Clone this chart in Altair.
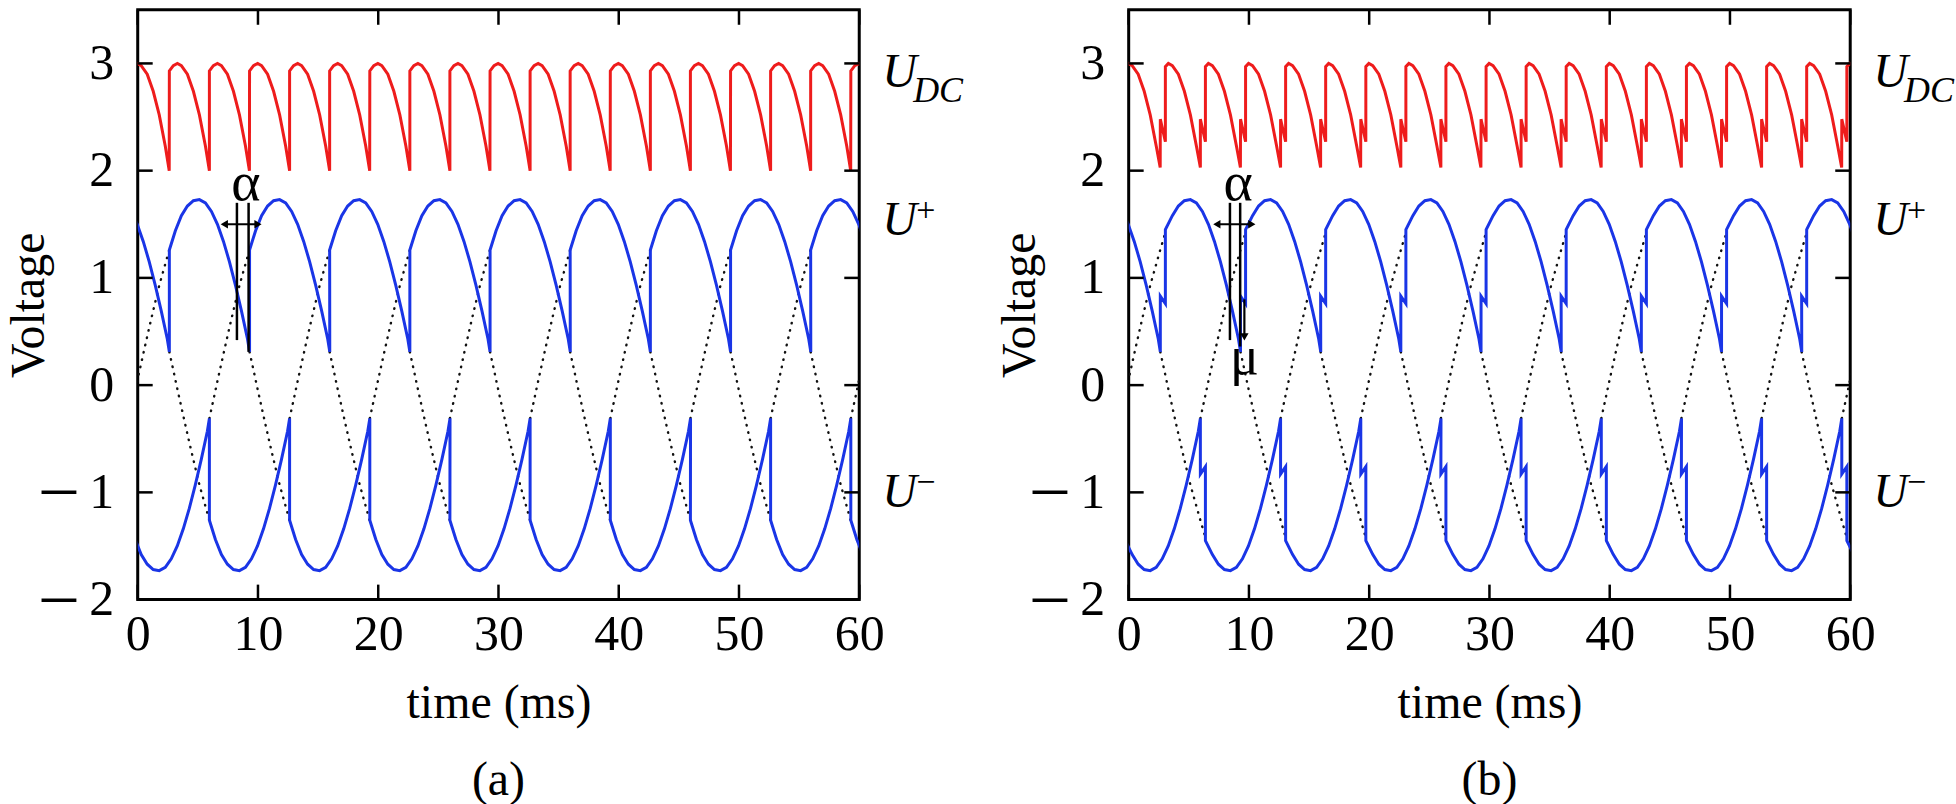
import altair as alt
import pandas as pd

# ---------------- values ----------------
X_TICKS = [0, 10, 20, 30, 40, 50, 60]
Y_TICKS = [-2, -1, 0, 1, 2, 3]

# panel (a): firing instants (ms) of the + rail and of the - rail
UP_FIRE_A = [-4.04, 2.63, 9.30, 15.96, 22.63, 29.30, 35.96, 42.63, 49.30, 55.96]
UM_FIRE_A = [-0.71, 5.96, 12.63, 19.30, 25.96, 32.63, 39.30, 45.96, 52.63, 59.30]
# shape of one U+ / U- conduction arc (offset after firing, value)
ARC_OFF_A = [0.0, 0.5, 1.0, 1.5, 2.0, 2.5, 3.0, 3.5, 4.0, 4.5, 5.0, 5.5, 6.0, 6.5, 6.67]
UP_ARC_A = [1.26, 1.44, 1.58, 1.67, 1.72, 1.73, 1.70, 1.62, 1.50, 1.34, 1.15, 0.93, 0.69, 0.43, 0.31]
UM_ARC_A = [-1.26, -1.44, -1.58, -1.67, -1.72, -1.73, -1.70, -1.62, -1.50, -1.34, -1.15, -0.93, -0.69, -0.43, -0.31]
# U_DC pulse (offset after each commutation, value)
DC_OFF_A = [0.0, 0.33, 0.67, 1.0, 1.5, 2.0, 2.5, 3.0, 3.33]
DC_ARC_A = [2.93, 2.98, 3.00, 2.98, 2.90, 2.74, 2.52, 2.23, 2.00]
# free phase voltages (dotted)
DOT_OFF_A = [0.0, 0.83, 1.67, 2.5, 3.33]
DOT_FALL_A = [0.31, -0.12, -0.54, -0.93, -1.26]
DOT_RISE_A = [-0.31, 0.12, 0.54, 0.93, 1.26]

# panel (b): same firing instants, with overlap mu
UP_FIRE_B = [-4.04, 2.63, 9.30, 15.96, 22.63, 29.30, 35.96, 42.63, 49.30, 55.96]
UM_FIRE_B = [-0.71, 5.96, 12.63, 19.30, 25.96, 32.63, 39.30, 45.96, 52.63, 59.30]
ARC_OFF_B = [0.0, 0.42, 0.42, 1.0, 1.5, 2.0, 2.5, 3.0, 3.5, 4.0, 4.5, 5.0, 5.5, 6.0, 6.5, 6.67]
UP_ARC_B = [0.83, 0.76, 1.45, 1.58, 1.67, 1.72, 1.73, 1.70, 1.62, 1.50, 1.34, 1.15, 0.93, 0.69, 0.43, 0.31]
UM_ARC_B = [-0.83, -0.76, -1.45, -1.58, -1.67, -1.72, -1.73, -1.70, -1.62, -1.50, -1.34, -1.15, -0.93, -0.69, -0.43, -0.31]
DC_OFF_B = [0.0, 0.42, 0.42, 0.67, 1.0, 1.5, 2.0, 2.5, 3.0, 3.33]
DC_ARC_B = [2.48, 2.27, 2.97, 3.00, 2.98, 2.90, 2.74, 2.52, 2.23, 2.03]
DOT_OFF_B = [0.0, 0.83, 1.67, 2.5, 3.33, 3.75]
DOT_FALL_B = [0.31, -0.12, -0.54, -0.93, -1.26, -1.42]
DOT_RISE_B = [-0.31, 0.12, 0.54, 0.93, 1.26, 1.42]

# annotations
ALPHA_T_A = [8.25, 9.22]
ALPHA_TOP_A = [1.70, 1.70]
ALPHA_BOT_A = [0.42, 0.31]
ARROW_T_A = [7.2, 10.0]
ARROW_V = 1.50
ALPHA_LBL_A = [9.0, 1.88]

ALPHA_T_B = [8.42, 9.27]
ALPHA_TOP_B = [1.70, 1.70]
ALPHA_BOT_B = [0.42, 0.36]
ARROW_T_B = [7.33, 10.24]
ALPHA_LBL_B = [9.1, 1.88]
MU_T = 9.62
MU_V = [0.80, 0.45]
MU_LBL = [9.62, 0.25]

LABEL_V = {"UDC": 2.91, "UP": 1.53, "UM": -1.01}

# ---------------- styling ----------------
FONT = "'Liberation Serif', 'Times New Roman', Times, serif"
RED = "#ee1c1c"
BLUE = "#1a35e6"
W, H = 723, 591
FS = 50
TFS = 48


def tile(fires, offs, vals):
    rows = []
    for f in fires:
        for o, v in zip(offs, vals):
            rows.append({"t": round(f + o, 3), "v": v})
    df = pd.DataFrame(rows)
    df["i"] = range(len(df))
    return df


def tile_segs(fires, offs, vals, g0):
    rows = []
    k = 0
    for g, f in enumerate(fires):
        for o, v in zip(offs, vals):
            rows.append({"t": round(f + o, 3), "v": v, "g": g0 + g, "i": k})
            k += 1
    return pd.DataFrame(rows)


xs = alt.Scale(domain=[0, 60], nice=False, zero=False)
ys = alt.Scale(domain=[-2, 3.5], nice=False, zero=False)

X = alt.X("t:Q", scale=xs, axis=alt.Axis(
    values=X_TICKS, ticks=False, domain=False, grid=False,
    labelFont=FONT, labelFontSize=FS, labelColor="black", labelPadding=10,
    labelFlush=False, labelOverlap=False,
    title="time (ms)", titleFont=FONT, titleFontSize=TFS, titleFontWeight="normal",
    titleColor="black", titleBaseline="alphabetic", titleY=118))
Y = alt.Y("v:Q", scale=ys, axis=alt.Axis(
    values=Y_TICKS, ticks=False, domain=False, grid=False,
    labelFont=FONT, labelFontSize=FS, labelColor="black", labelPadding=24,
    labelFlush=False, labelOverlap=False,
    labelExpr="'' + abs(datum.value)",
    title="Voltage", titleFont=FONT, titleFontSize=TFS, titleFontWeight="normal",
    titleColor="black", titleBaseline="alphabetic", titleAngle=270, titleX=-94))


def panel(tag, up_fire, um_fire, arc_off, up_arc, um_arc, dc_off, dc_arc,
          dot_off, dot_fall, dot_rise, a_t, a_top, a_bot, arr_t, a_lbl,
          mu=None, bound=False):
    dc_fire = sorted(up_fire + um_fire)
    dots = pd.concat([tile_segs(up_fire, dot_off, dot_fall, 0),
                      tile_segs(um_fire, dot_off, dot_rise, 100)])
    layers = []
    layers.append(alt.Chart(dots).mark_line(
        color="#111111", strokeWidth=2.4, strokeDash=[0.5, 7], strokeCap="round", clip=True
    ).encode(x=X, y=Y, detail="g:N", order="i:Q"))
    for df, col in [(tile(up_fire, arc_off, up_arc), BLUE),
                    (tile(um_fire, arc_off, um_arc), BLUE),
                    (tile(dc_fire, dc_off, dc_arc), RED)]:
        layers.append(alt.Chart(df).mark_line(color=col, strokeWidth=3, clip=True)
                      .encode(x=X, y=Y, order="i:Q"))
    # inward mirror ticks
    yt = pd.DataFrame({"v": Y_TICKS})
    xt = pd.DataFrame({"t": X_TICKS})
    layers.append(alt.Chart(yt).mark_rule(color="black", strokeWidth=2.5)
                  .encode(y=Y, x=alt.value(0), x2=alt.value(15)))
    layers.append(alt.Chart(yt).mark_rule(color="black", strokeWidth=2.5)
                  .encode(y=Y, x=alt.value(W - 15), x2=alt.value(W)))
    layers.append(alt.Chart(xt).mark_rule(color="black", strokeWidth=2.5)
                  .encode(x=X, y=alt.value(H - 15), y2=alt.value(H)))
    layers.append(alt.Chart(xt).mark_rule(color="black", strokeWidth=2.5)
                  .encode(x=X, y=alt.value(0), y2=alt.value(15)))
    # long minus signs of the negative tick labels
    neg = pd.DataFrame({"v": [v for v in Y_TICKS if v < 0], "s": ["–" for v in Y_TICKS if v < 0]})
    layers.append(alt.Chart(neg).mark_text(font=FONT, fontSize=68, color="black",
                                          align="right", baseline="middle", dy=-4)
                  .encode(y=Y, x=alt.value(-62), text="s:N"))
    # alpha markers
    al = pd.DataFrame({"t": a_t, "v": a_top, "v2": a_bot})
    layers.append(alt.Chart(al).mark_rule(color="black", strokeWidth=2.5)
                  .encode(x=X, y=Y, y2=alt.Y2("v2:Q")))
    ar = pd.DataFrame({"t": [arr_t[0]], "t2": [arr_t[1]], "v": [ARROW_V]})
    layers.append(alt.Chart(ar).mark_rule(color="black", strokeWidth=2.2)
                  .encode(x=X, x2=alt.X2("t2:Q"), y=Y))
    layers.append(alt.Chart(pd.DataFrame({"t": [arr_t[0]], "v": [ARROW_V]}))
                  .mark_point(shape="triangle-left", filled=True, color="black", size=70, opacity=1)
                  .encode(x=X, y=Y))
    layers.append(alt.Chart(pd.DataFrame({"t": [arr_t[1]], "v": [ARROW_V]}))
                  .mark_point(shape="triangle-right", filled=True, color="black", size=70, opacity=1)
                  .encode(x=X, y=Y))
    layers.append(alt.Chart(pd.DataFrame({"t": [a_lbl[0]], "v": [a_lbl[1]], "s": ["α"]}))
                  .mark_text(font=FONT, fontSize=56, color="black", baseline="middle")
                  .encode(x=X, y=Y, text="s:N"))
    if mu is not None:
        mt, mv, ml = mu
        layers.append(alt.Chart(pd.DataFrame({"t": [mt], "v": [mv[0]], "v2": [mv[1]]}))
                      .mark_rule(color="black", strokeWidth=2.2)
                      .encode(x=X, y=Y, y2=alt.Y2("v2:Q")))
        layers.append(alt.Chart(pd.DataFrame({"t": [mt], "v": [mv[1]]}))
                      .mark_point(shape="triangle-down", filled=True, color="black", size=70, opacity=1)
                      .encode(x=X, y=Y))
        layers.append(alt.Chart(pd.DataFrame({"t": [ml[0]], "v": [ml[1]], "s": ["μ"]}))
                      .mark_text(font=FONT, fontSize=54, color="black", baseline="middle")
                      .encode(x=X, y=Y, text="s:N"))
    # right-hand labels
    lab = pd.DataFrame({"v": [LABEL_V["UDC"], LABEL_V["UP"], LABEL_V["UM"]], "s": ["U", "U", "U"]})
    layers.append(alt.Chart(lab).mark_text(font=FONT, fontSize=48, fontStyle="italic", color="black",
                                          align="left", baseline="middle")
                  .encode(y=Y, x=alt.value(W + 23), text="s:N"))
    layers.append(alt.Chart(pd.DataFrame({"v": [LABEL_V["UDC"]], "s": ["DC"]}))
                  .mark_text(font=FONT, fontSize=36, fontStyle="italic", color="black",
                             align="left", baseline="middle", dy=18)
                  .encode(y=Y, x=alt.value(W + 54), text="s:N"))
    layers.append(alt.Chart(pd.DataFrame({"v": [LABEL_V["UP"], LABEL_V["UM"]], "s": ["+", "−"]}))
                  .mark_text(font=FONT, fontSize=34, color="black",
                             align="left", baseline="middle", dy=-10)
                  .encode(y=Y, x=alt.value(W + 57), text="s:N"))
    # panel tag
    layers.append(alt.Chart(pd.DataFrame({"s": [tag]}))
                  .mark_text(font=FONT, fontSize=TFS, color="black", align="center", baseline="alphabetic")
                  .encode(x=alt.value(W / 2), y=alt.value(H + 196), text="s:N"))
    if bound:
        layers.append(alt.Chart(pd.DataFrame({"s": [tag]}))
                      .mark_rule(color="white", opacity=0, strokeWidth=1)
                      .encode(x=alt.value(-136), y=alt.value(-7), y2=alt.value(20)))
    return alt.layer(*layers).properties(width=W, height=H)


pa = panel("(a)", UP_FIRE_A, UM_FIRE_A, ARC_OFF_A, UP_ARC_A, UM_ARC_A, DC_OFF_A, DC_ARC_A,
           DOT_OFF_A, DOT_FALL_A, DOT_RISE_A, ALPHA_T_A, ALPHA_TOP_A, ALPHA_BOT_A,
           ARROW_T_A, ALPHA_LBL_A, bound=True)
pb = panel("(b)", UP_FIRE_B, UM_FIRE_B, ARC_OFF_B, UP_ARC_B, UM_ARC_B, DC_OFF_B, DC_ARC_B,
           DOT_OFF_B, DOT_FALL_B, DOT_RISE_B, ALPHA_T_B, ALPHA_TOP_B, ALPHA_BOT_B,
           ARROW_T_B, ALPHA_LBL_B, mu=(MU_T, MU_V, MU_LBL))

chart = alt.hconcat(pa, pb, spacing=270, bounds="flush").properties(
    padding={"left": 0, "top": 0, "right": 0, "bottom": 0}, background="white"
).configure_view(stroke="black", strokeWidth=3)

chart.save("out.html", embed_options={"renderer": "svg", "actions": False})
